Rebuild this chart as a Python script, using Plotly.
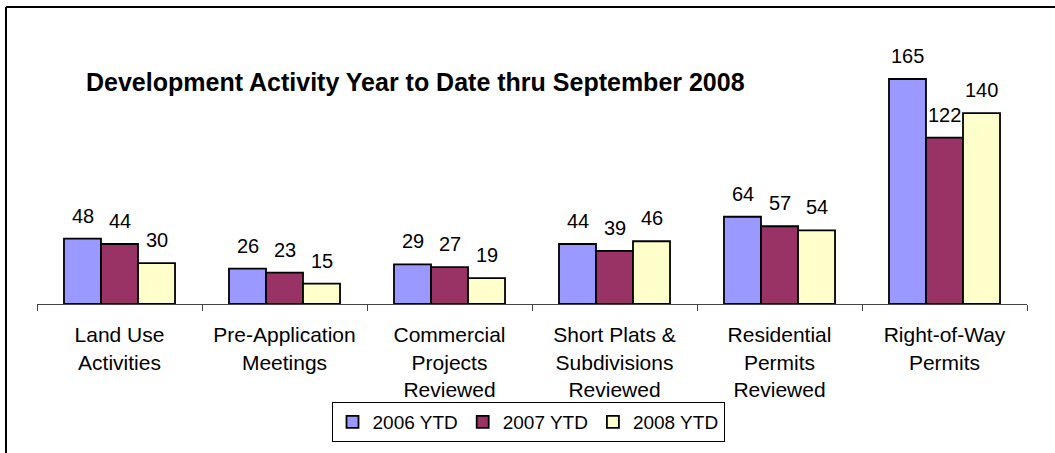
import plotly.graph_objects as go

categories = ["Land Use<br>Activities", "Pre-Application<br>Meetings",
              "Commercial<br>Projects<br>Reviewed", "Short Plats &<br>Subdivisions<br>Reviewed",
              "Residential<br>Permits<br>Reviewed", "Right-of-Way<br>Permits"]
series_names = ["2006 YTD", "2007 YTD", "2008 YTD"]
values_2006 = [48, 26, 29, 44, 64, 165]
values_2007 = [44, 23, 27, 39, 57, 122]
values_2008 = [30, 15, 19, 46, 54, 140]
colors = ["#9999FF", "#993366", "#FFFFCC"]
title_text = "Development Activity Year to Date thru September 2008"

FONT = "Arial, Liberation Sans, sans-serif"
W, H = 1055, 453
L, R, T, B = 37, 28, 40, 149
pw, ph = W - L - R, H - T - B
ymax = 193.6

def px_x(p):
    return (p - L) / pw

def px_y(p):
    return (H - B - p) / ph

fig = go.Figure()
all_vals = [values_2006, values_2007, values_2008]
for name, vals, col in zip(series_names, all_vals, colors):
    fig.add_trace(go.Bar(
        x=categories, y=vals, name=name,
        marker=dict(color=col, line=dict(color="black", width=1.8)),
    ))

offsets = [-37, 0, 37]
for vals, off in zip(all_vals, offsets):
    for c, v in zip(categories, vals):
        fig.add_annotation(x=c, y=v, text=str(v), showarrow=False,
                           xshift=off, yshift=10, yanchor="bottom",
                           font=dict(family=FONT, size=20, color="black"))

fig.add_annotation(xref="paper", yref="paper", x=px_x(84), y=px_y(82),
                   xanchor="left", yanchor="middle", showarrow=False,
                   text="<b>" + title_text + "</b>",
                   font=dict(family=FONT, size=25, color="black"))

# chart frame (cropped)
fig.add_shape(type="line", xref="paper", yref="paper",
              x0=px_x(6), x1=px_x(6), y0=px_y(7), y1=px_y(470),
              line=dict(color="black", width=2))
fig.add_shape(type="line", xref="paper", yref="paper",
              x0=px_x(6), x1=px_x(1070), y0=px_y(7), y1=px_y(7),
              line=dict(color="black", width=2))

fig.update_layout(
    width=W, height=H,
    margin=dict(l=L, r=R, t=T, b=B, autoexpand=False),
    paper_bgcolor="white", plot_bgcolor="white",
    barmode="group", bargap=0.327, bargroupgap=0,
    font=dict(family=FONT, size=21, color="black"),
    showlegend=True,
    legend=dict(orientation="h", x=px_x(528), y=px_y(402),
                xanchor="center", yanchor="top",
                bordercolor="black", borderwidth=1,
                font=dict(family=FONT, size=19, color="black"),
                itemwidth=30, tracegroupgap=0),
    xaxis=dict(showline=True, linecolor="#444444", linewidth=1,
               ticks="outside", tickson="boundaries", ticklen=6,
               tickcolor="#444444", showgrid=False,
               ticklabelstandoff=12,
               tickfont=dict(family=FONT, size=21, color="black")),
    yaxis=dict(range=[0, ymax], visible=False, showgrid=False, zeroline=False),
)

fig.write_html("out.html", config={"displayModeBar": False},
               post_script="document.body.style.margin='0';document.body.style.overflow='hidden';")
